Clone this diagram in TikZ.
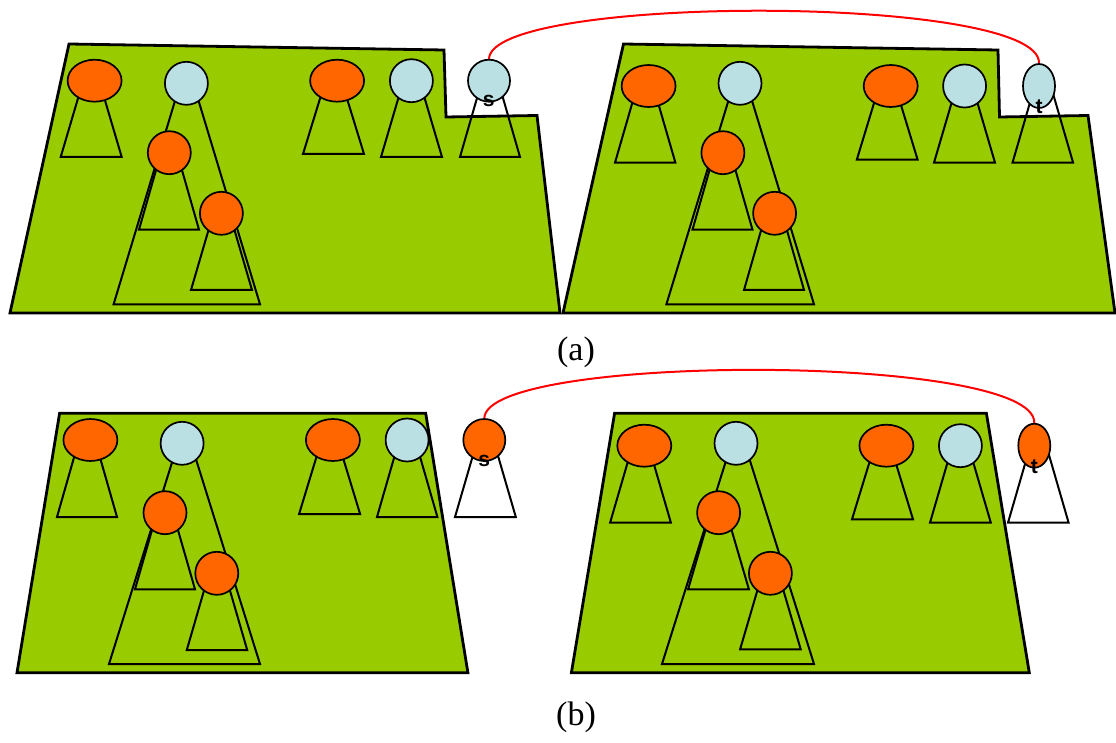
\documentclass[tikz,border=0pt]{standalone}
\usepackage{fontspec}
\setmainfont{Liberation Serif}
\newfontfamily\keyfont{Liberation Sans}
\usetikzlibrary{shapes.geometric}
\definecolor{regiongreen}{HTML}{99CC00}
\definecolor{keyorange}{HTML}{FF6600}
\definecolor{keyblue}{HTML}{BBE0E3}
\definecolor{linkred}{HTML}{FF0000}
\tikzset{
  region/.style={fill=regiongreen, draw=black, line width=2.8pt, line join=miter},
  subtree/.style={draw=black, line width=2pt, line join=miter},
  keynode/.style={draw=black, line width=1.7pt, inner sep=0pt},
  orangeoval/.style={keynode, ellipse, fill=keyorange, minimum width=54pt, minimum height=42pt},
  orangedot/.style={keynode, circle, fill=keyorange, minimum size=43pt},
  bluedot/.style={keynode, circle, fill=keyblue, minimum size=43pt},
  endoval/.style={keynode, ellipse, minimum width=32pt, minimum height=44pt},
  endlabel/.style={font=\keyfont\bfseries\fontsize{21}{22}\selectfont, text=black, inner sep=0pt},
  caption/.style={font=\fontsize{34}{40}\selectfont, inner sep=0pt},
  link/.style={draw=linkred, line width=2pt},
}
% subtree drawn as a trapezoid whose narrow top hides under its root:
% centre x, top y, base y, top half width, base half width
\newcommand\subtri[5]{%
  \draw[subtree] ({#1-#4},#2) -- ({#1-#5},#3) -- ({#1+#5},#3) -- ({#1+#4},#2);}

\begin{document}
\begin{tikzpicture}[x=1pt, y=-1pt]
\useasboundingbox (0,0) rectangle (1116,743);

% ---------- (a) ----------
\draw[region] (69,44) -- (444,50) -- (446,117) -- (537,115.5) -- (560,313) -- (10,313) -- cycle;
\draw[region] (623.5,44) -- (998,50) -- (999.5,117) -- (1088,115.5) -- (1115,313) -- (563,313) -- cycle;

% left region subtrees
\subtri{91.2}{80.7}{157}{8}{30.5}
\subtri{186.8}{83.3}{304.3}{6.5}{73.2}
\subtri{169}{152.7}{229.7}{8}{30}
\subtri{221.5}{213}{290}{8}{30.5}
\subtri{333.5}{80.7}{154}{8}{30.5}
\subtri{411.5}{80.7}{157}{8}{30.5}
\subtri{490}{80.7}{157}{8}{30}
% right region subtrees
\subtri{645.2}{86}{162.7}{8}{30.2}
\subtri{740.2}{83.3}{304.3}{6.5}{73.8}
\subtri{722.5}{152.7}{229.7}{8}{30}
\subtri{774}{213}{290}{8}{30}
\subtri{887.2}{86}{159.7}{8}{30.4}
\subtri{964.5}{86}{162.7}{8}{30.5}
\subtri{1042.8}{86}{162.7}{8}{30.3}

% left region keys
\node[orangeoval] (a1) at (94.6,80.7) {};
\node[bluedot]    (a2) at (186.4,83.3) {};
\node[orangedot]  (a3) at (169.3,152.7) {};
\node[orangedot]  (a4) at (221.4,213.3) {};
\node[orangeoval] (a5) at (337.1,80.7) {};
\node[bluedot]    (a6) at (411.4,80.7) {};
\node[bluedot, minimum size=42pt] (sa) at (489,80.7) {};
\node[endlabel] (sal) at (488.6,101) {s};
% right region keys
\node[orangeoval] (b1) at (648.6,86) {};
\node[bluedot]    (b2) at (740,83.3) {};
\node[orangedot]  (b3) at (722.9,152.7) {};
\node[orangedot]  (b4) at (774.6,213.3) {};
\node[orangeoval] (b5) at (890.7,86) {};
\node[bluedot]    (b6) at (964.6,86) {};
\node[endoval, fill=keyblue] (ta) at (1039,86) {};
\node[endlabel] (tal) at (1039,107) {t};

\draw[link] (sa.north) .. controls (491,-6) and (1041,-6) .. (ta.north);
\node[caption] (capa) at (576,352.5) {(a)};

% ---------- (b) ----------
\draw[region] (59.6,413.3) -- (425.7,413.3) -- (467.9,672.7) -- (17,672.7) -- cycle;
\draw[region] (614.6,413.3) -- (986.4,413.3) -- (1029.3,672.7) -- (571.4,672.7) -- cycle;

% left region subtrees
\subtri{87}{440}{517}{8}{30}
\subtri{184.5}{443.3}{664}{6.5}{75.5}
\subtri{165}{512.7}{589.3}{8}{30}
\subtri{217}{573.3}{650}{8}{30.2}
\subtri{329.6}{440}{514}{8}{30.5}
\subtri{407.2}{440}{517}{8}{30.2}
\subtri{485.4}{440}{517}{8}{30.4}
% right region subtrees
\subtri{640.5}{445.7}{522.7}{8}{30.4}
\subtri{738}{443.3}{664}{6.5}{76}
\subtri{718.5}{512.7}{589.3}{8}{30.4}
\subtri{770.4}{573.3}{649.3}{8}{30.3}
\subtri{882.5}{445.7}{519.3}{8}{30.5}
\subtri{960.4}{445.7}{522.7}{8}{30.4}
\subtri{1038.3}{445.7}{522.7}{8}{30.3}

% left region keys
\node[orangeoval] (c1) at (90.4,440) {};
\node[bluedot]    (c2) at (182.1,443.3) {};
\node[orangedot]  (c3) at (165,512.7) {};
\node[orangedot]  (c4) at (216.8,573.3) {};
\node[orangeoval] (c5) at (332.9,440) {};
\node[bluedot]    (c6) at (407.1,440) {};
\node[orangedot, minimum size=42pt] (sb) at (484.3,440) {};
\node[endlabel] (sbl) at (484.3,461) {s};
% right region keys
\node[orangeoval] (d1) at (644.3,445.7) {};
\node[bluedot]    (d2) at (736,443.3) {};
\node[orangedot]  (d3) at (718.6,512.7) {};
\node[orangedot]  (d4) at (770.4,573.3) {};
\node[orangeoval] (d5) at (886.4,445.7) {};
\node[bluedot]    (d6) at (960.4,445.7) {};
\node[endoval, fill=keyorange] (tb) at (1034.3,445.7) {};
\node[endlabel] (tbl) at (1034.3,466.5) {t};

\draw[link] (sb.north) .. controls (486,353) and (1036,353) .. (tb.north);
\node[caption] (capb) at (576,717.5) {(b)};
\end{tikzpicture}
\end{document}
